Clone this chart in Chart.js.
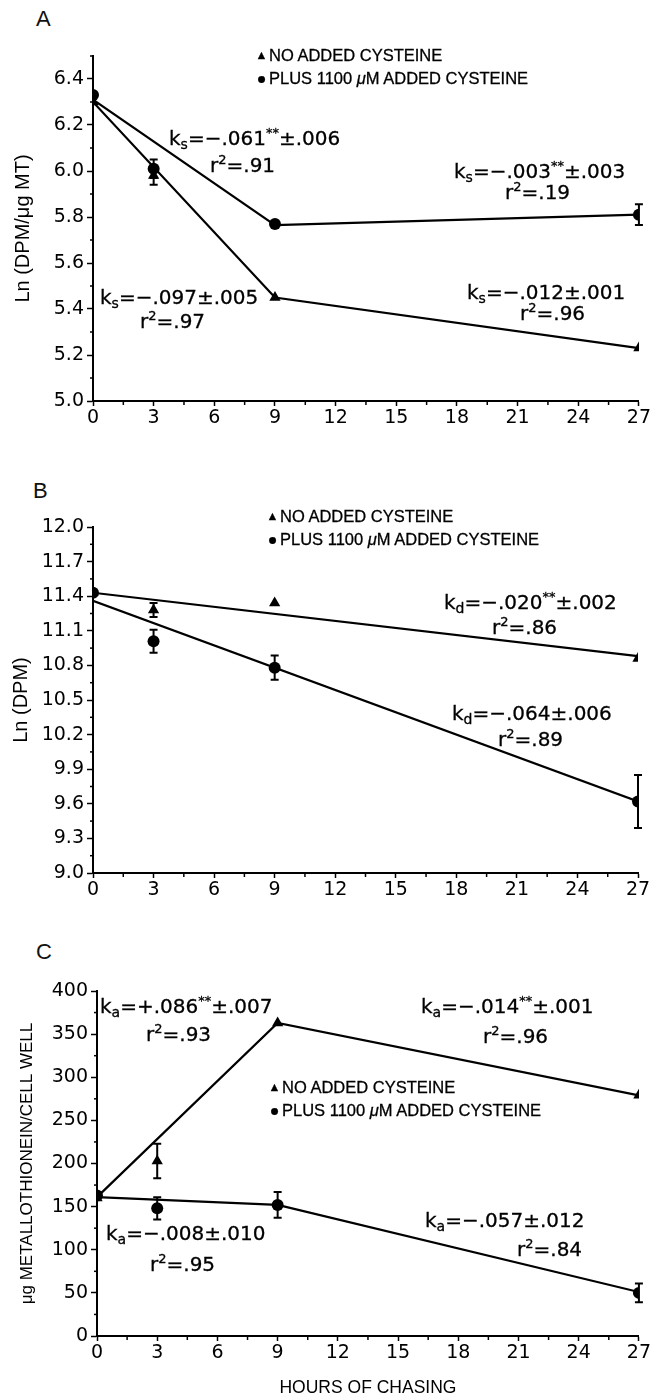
<!DOCTYPE html>
<html>
<head>
<meta charset="utf-8">
<script src="https://cdn.jsdelivr.net/npm/chart.js@4.4.0/dist/chart.umd.min.js"></script>
<style>
  body { margin: 0; background: #fff; }
  #page { position: relative; width: 652px; height: 1399px; overflow: hidden; font-family: "DejaVu Sans", sans-serif; color: #000; }
  canvas { position: absolute; left: 0; }
  .note { position: absolute; white-space: nowrap; font-size: 20px; line-height: 20px; transform: translateY(-50%); -webkit-text-stroke: 0.3px #000; }
  .note sub { font-size: 14px; position: relative; top: 4px; vertical-align: baseline; }
  .note sup { font-size: 13px; position: relative; top: -8px; vertical-align: baseline; }
  .legend { position: absolute; font-family: "Liberation Sans", sans-serif; font-size: 16.5px; line-height: 21px; white-space: nowrap; -webkit-text-stroke: 0.3px #000; }
  .legend .m { display: inline-block; width: 13px; text-align: center; margin-right: 1px; }
  .legend .tri { font-size: 12px; position: relative; top: -2px; }
  .legend .dot { font-size: 16px; }
  .letter { position: absolute; font-family: "Liberation Sans", sans-serif; font-size: 22px; color: #111; }
</style>
</head>
<body>
<div id="page">
  <div class="letter" style="left:36px;top:6px">A</div>
  <div class="letter" style="left:33px;top:478px">B</div>
  <div class="letter" style="left:36px;top:939px">C</div>

  <canvas id="chartA" width="652" height="431" style="top:0"></canvas>
  <canvas id="chartB" width="652" height="433" style="top:470px"></canvas>
  <canvas id="chartC" width="652" height="464" style="top:935px"></canvas>

  <div class="legend" style="left:255px;top:45px">
    <div><span class="m tri">▲</span>NO ADDED CYSTEINE</div>
    <div><span class="m dot">●</span>PLUS 1100 <i>μ</i>M ADDED CYSTEINE</div>
  </div>
  <div class="legend" style="left:266px;top:506px">
    <div><span class="m tri">▲</span>NO ADDED CYSTEINE</div>
    <div><span class="m dot">●</span>PLUS 1100 <i>μ</i>M ADDED CYSTEINE</div>
  </div>
  <div class="legend" style="left:268px;top:1077px">
    <div><span class="m tri">▲</span>NO ADDED CYSTEINE</div>
    <div><span class="m dot">●</span>PLUS 1100 <i>μ</i>M ADDED CYSTEINE</div>
  </div>

  <!-- panel A rate constants -->
  <div class="note" style="left:169px;top:139px">k<sub>s</sub>=−.061<sup>**</sup>±.006</div>
  <div class="note" style="left:210px;top:166px">r<sup>2</sup>=.91</div>
  <div class="note" style="left:454px;top:172px">k<sub>s</sub>=−.003<sup>**</sup>±.003</div>
  <div class="note" style="left:505px;top:193px">r<sup>2</sup>=.19</div>
  <div class="note" style="left:100px;top:298px">k<sub>s</sub>=−.097±.005</div>
  <div class="note" style="left:140px;top:322px">r<sup>2</sup>=.97</div>
  <div class="note" style="left:467px;top:293px">k<sub>s</sub>=−.012±.001</div>
  <div class="note" style="left:520px;top:314px">r<sup>2</sup>=.96</div>

  <!-- panel B -->
  <div class="note" style="left:444px;top:603px">k<sub>d</sub>=−.020<sup>**</sup>±.002</div>
  <div class="note" style="left:492px;top:628px">r<sup>2</sup>=.86</div>
  <div class="note" style="left:452px;top:714px">k<sub>d</sub>=−.064±.006</div>
  <div class="note" style="left:498px;top:740px">r<sup>2</sup>=.89</div>

  <!-- panel C -->
  <div class="note" style="left:100px;top:1007px">k<sub>a</sub>=+.086<sup>**</sup>±.007</div>
  <div class="note" style="left:146px;top:1035px">r<sup>2</sup>=.93</div>
  <div class="note" style="left:421px;top:1007px">k<sub>a</sub>=−.014<sup>**</sup>±.001</div>
  <div class="note" style="left:483px;top:1037px">r<sup>2</sup>=.96</div>
  <div class="note" style="left:106px;top:1234px">k<sub>a</sub>=−.008±.010</div>
  <div class="note" style="left:150px;top:1265px">r<sup>2</sup>=.95</div>
  <div class="note" style="left:425px;top:1221px">k<sub>a</sub>=−.057±.012</div>
  <div class="note" style="left:517px;top:1250px">r<sup>2</sup>=.84</div>
</div>

<script>
// sampling times (hours of chasing)
const hours = [0, 3, 9, 27];
const fitHours = [0, 9, 27];
const fitHoursB = [0, 27];

// A: Ln(DPM/ug MT)
const aNoCys = [6.30, 5.98, 5.45, 5.23];
const aNoCysErr = [0, 0.04, 0, 0];
const aCys = [6.33, 6.01, 5.77, 5.81];
const aCysErr = [0, 0.04, 0, 0.045];
const aFitNoCys = [6.30, 5.45, 5.23];
const aFitCys = [6.31, 5.765, 5.81];

// B: Ln(DPM)
const bNoCys = [11.43, 11.28, 11.34, 10.86];
const bNoCysErr = [0, 0.06, 0, 0];
const bCys = [11.43, 11.01, 10.78, 9.62];
const bCysErr = [0, 0.10, 0.105, 0.23];
const bFitNoCys = [11.43, 10.88];
const bFitCys = [11.36, 9.62];

// C: ug metallothionein / cell well
const cNoCys = [160, 203, 363, 279];
const cNoCysErr = [0, 20, 0, 0];
const cCys = [163, 148, 152, 50];
const cCysErr = [0, 13, 15, 11];
const cFitNoCys = [161, 363, 279];
const cFitCys = [161, 152, 51];

const pts = (xs, ys) => xs.map((x, i) => ({x: x, y: ys[i]}));

// vertical error bars with caps
const errorBars = {
  id: 'errorBars',
  afterDatasetsDraw(chart) {
    const {ctx, scales: {x, y}} = chart;
    ctx.save();
    ctx.strokeStyle = '#000';
    ctx.lineWidth = 2;
    chart.data.datasets.forEach(ds => {
      if (!ds.errors) return;
      ds.data.forEach((p, i) => {
        const e = ds.errors[i];
        if (!e) return;
        const px = x.getPixelForValue(p.x);
        const t = y.getPixelForValue(p.y + e);
        const b = y.getPixelForValue(p.y - e);
        ctx.beginPath();
        ctx.moveTo(px, t); ctx.lineTo(px, b);
        ctx.moveTo(px - 4, t); ctx.lineTo(px + 4, t);
        ctx.moveTo(px - 4, b); ctx.lineTo(px + 4, b);
        ctx.stroke();
      });
    });
    ctx.restore();
  }
};

// short ticks for the unlabelled positions
const minorTicks = {
  id: 'minorTicks',
  afterDraw(chart) {
    const ctx = chart.ctx;
    ctx.save();
    ctx.strokeStyle = '#000';
    ctx.lineWidth = 1.5;
    ['x', 'y'].forEach(id => {
      const s = chart.scales[id];
      s.ticks.forEach((t, i) => {
        if (t.label !== '') return;
        const p = s.getPixelForTick(i);
        ctx.beginPath();
        if (id === 'x') { ctx.moveTo(p, s.top); ctx.lineTo(p, s.top + 4); }
        else { ctx.moveTo(s.right, p); ctx.lineTo(s.right - 3, p); }
        ctx.stroke();
      });
    });
    ctx.restore();
  }
};

const tickFont = {family: '"DejaVu Sans", sans-serif', size: 19};
const majorColor = c => (c.tick && c.tick.label === '') ? 'rgba(0,0,0,0)' : '#000';

function makePanel(id, p) {
  new Chart(document.getElementById(id), {
    type: 'scatter',
    data: {
      datasets: [
        {data: pts(hours, p.noCys), errors: p.noCysErr, pointStyle: 'triangle', pointRadius: 6.5,
         backgroundColor: '#000', borderColor: '#000', borderWidth: 0, showLine: false},
        {data: pts(hours, p.cys), errors: p.cysErr, pointStyle: 'circle', pointRadius: 6,
         backgroundColor: '#000', borderColor: '#000', borderWidth: 0, showLine: false},
        {data: pts(p.fitX, p.fitNoCys), showLine: true, pointRadius: 0, borderColor: '#000', borderWidth: 2.2, tension: 0},
        {data: pts(p.fitX, p.fitCys), showLine: true, pointRadius: 0, borderColor: '#000', borderWidth: 2.2, tension: 0}
      ]
    },
    options: {
      responsive: false,
      animation: false,
      layout: {padding: {top: p.padTop, right: p.padRight, left: 0, bottom: 0}},
      plugins: {legend: {display: false}, tooltip: {enabled: false}},
      scales: {
        x: {
          type: 'linear', min: 0, max: 27,
          afterFit: s => { s.height = p.xHeight; },
          ticks: {stepSize: 1.5, autoSkip: false, maxRotation: 0, color: '#000', font: tickFont, padding: 1,
                  callback: v => (v % 3 === 0 ? String(v) : '')},
          grid: {drawOnChartArea: false, tickLength: 5, tickWidth: 1.5, tickColor: majorColor},
          border: {color: '#000', width: 2},
          title: {display: !!p.xTitle, text: p.xTitle || '', color: '#000',
                  font: {family: '"Liberation Sans", sans-serif', size: 17.5}, padding: {top: 0, bottom: 0}}
        },
        y: {
          type: 'linear', min: p.yMin, max: p.yMax,
          afterFit: s => { s.width = p.yWidth; },
          ticks: {stepSize: p.yStep, autoSkip: false, color: '#000', font: tickFont, padding: 3, callback: p.yLabel},
          grid: {drawOnChartArea: false, tickLength: 6, tickWidth: 1.5, tickColor: majorColor},
          border: {color: '#000', width: 2},
          title: {display: true, text: p.yTitle, color: '#000',
                  font: {family: '"Liberation Sans", sans-serif', size: p.yTitleSize}, padding: {top: p.yTitlePad, bottom: 0}}
        }
      }
    },
    plugins: [errorBars, minorTicks]
  });
}

makePanel('chartA', {
  noCys: aNoCys, noCysErr: aNoCysErr, cys: aCys, cysErr: aCysErr,
  fitX: fitHours, fitNoCys: aFitNoCys, fitCys: aFitCys,
  yMin: 5.0, yMax: 6.5, yStep: 0.1,
  yLabel: v => (Math.round(v * 10) % 2 === 0 ? v.toFixed(1) : ''),
  yTitle: 'Ln (DPM/μg MT)', yTitleSize: 20, yTitlePad: 11,
  padTop: 56, padRight: 12, yWidth: 93, xHeight: 30
});

makePanel('chartB', {
  noCys: bNoCys, noCysErr: bNoCysErr, cys: bCys, cysErr: bCysErr,
  fitX: fitHoursB, fitNoCys: bFitNoCys, fitCys: bFitCys,
  yMin: 9.0, yMax: 12.0, yStep: 0.15,
  yLabel: v => (Math.round((v - 9) / 0.15) % 2 === 0 ? v.toFixed(1) : ''),
  yTitle: 'Ln (DPM)', yTitleSize: 20, yTitlePad: 9,
  padTop: 57, padRight: 14, yWidth: 93, xHeight: 30
});

makePanel('chartC', {
  noCys: cNoCys, noCysErr: cNoCysErr, cys: cCys, cysErr: cCysErr,
  fitX: fitHours, fitNoCys: cFitNoCys, fitCys: cFitCys,
  yMin: 0, yMax: 400, yStep: 25,
  yLabel: v => (v % 50 === 0 ? String(v) : ''),
  yTitle: 'μg METALLOTHIONEIN/CELL WELL', yTitleSize: 17, yTitlePad: 17,
  xTitle: 'HOURS OF CHASING',
  padTop: 56, padRight: 11, yWidth: 97, xHeight: 63
});
</script>
</body>
</html>
